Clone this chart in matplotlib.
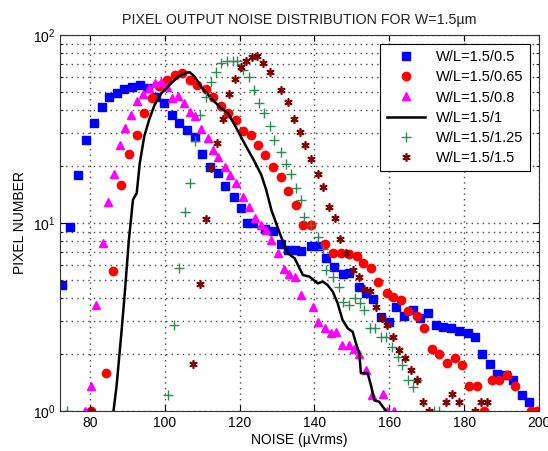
import matplotlib
matplotlib.use("Agg")
import matplotlib.pyplot as plt
import numpy as np

plt.rcParams['font.family'] = ['Liberation Sans', 'DejaVu Sans']

# W/L=1.5/0.5 (blue squares)
x_05 = [72.5, 74.7, 76.9, 78.9, 81.1, 83.1, 85.1, 87.1, 89.1, 91.3, 93.3, 95.4, 97.6, 99.7,
        101.8, 103.9, 105.9, 108.0, 110.0, 112.0, 114.2, 116.2, 118.4, 120.5, 122.0, 123.5,
        126.7, 128.9, 131.1, 132.9, 134.7, 136.5, 139.1, 140.9, 143.1, 145.3, 147.5, 149.3,
        151.8, 153.8, 155.7, 157.8, 159.8, 161.9, 164.0, 166.2, 168.2, 170.4, 172.5, 174.4,
        176.5, 178.7, 180.9, 182.9, 184.7, 186.9, 188.9, 191.1, 193.1, 195.5, 197.3]
y_05 = [4.7, 9.5, 18.0, 27.6, 34.2, 41.2, 47.0, 49.3, 51.8, 53.1, 54.0, 52.0, 47.0, 43.3,
        37.5, 33.9, 31.2, 28.8, 23.3, 19.9, 18.4, 15.7, 13.7, 12.0, 10.0, 10.0,
        9.3, 9.1, 7.7, 7.2, 7.2, 7.1, 7.5, 7.55, 6.5, 5.86, 5.35, 5.4,
        4.55, 4.23, 3.93, 3.17, 2.99, 3.59, 3.2, 3.44, 3.11, 3.33, 2.87, 2.81,
        2.77, 2.67, 2.59, 2.48, 2.01, 1.77, 1.57, 1.55, 1.46, 1.22, 1.11]

# W/L=1.5/0.65 (red circles)
x_065 = [80.3, 84.2, 86.2, 88.4, 90.4, 92.5, 94.5, 96.6, 98.5, 100.6, 102.7, 104.7, 106.7,
         108.7, 110.9, 112.9, 114.9, 116.9, 118.9, 120.9, 123.0, 124.9, 126.9, 128.9, 131.0,
         132.9, 135.0, 136.9, 139.1, 142.9, 144.9, 147.1, 149.1, 151.3, 153.1, 155.1, 157.1,
         159.3, 161.1, 163.1, 165.1, 167.3, 169.3, 171.4, 173.3, 175.4, 177.5, 179.5, 181.3,
         183.4, 185.3, 187.4, 189.3, 191.5, 193.6, 197.8, 199.5]
y_065 = [1.0, 1.6, 5.56, 16.0, 23.2, 29.4, 38.3, 46.5, 53.4, 57.8, 61.3, 62.6, 57.8,
         54.3, 51.4, 47.0, 41.9, 38.3, 35.3, 30.9, 29.4, 26.0, 23.0, 19.9, 17.6,
         14.8, 12.4, 9.7, 9.7, 7.7, 6.95, 6.9, 6.84, 6.7, 6.1, 5.74, 4.88,
         4.22, 4.03, 3.89, 3.42, 3.2, 2.77, 2.13, 2.01, 1.79, 1.91, 1.76, 1.35,
         1.35, 1.0, 1.46, 1.46, 1.55, 1.35, 1.0, 1.0]

# W/L=1.5/0.8 (magenta triangles)
x_08 = [78.7, 80.3, 81.6, 83.4, 84.8, 86.4, 88.0, 89.5, 91.1, 92.7, 94.2, 95.7, 97.3, 98.9,
        100.6, 102.0, 103.5, 105.1, 106.7, 108.2, 109.8, 111.6, 112.9, 114.2, 116.0, 117.5,
        119.1, 120.9, 122.4, 124.0, 125.8, 127.1, 128.5, 130.2, 131.8, 133.3, 134.9, 136.5,
        139.5, 140.9, 142.7, 144.5, 145.8, 147.4, 149.1, 150.5, 152.0, 153.8, 155.4, 158.4,
        159.3, 161.3]
y_08 = [1.0, 1.35, 3.66, 7.8, 13.0, 18.2, 26.0, 31.9, 37.5, 44.4, 48.5, 52.1, 55.3, 56.3,
        53.1, 46.5, 47.2, 43.6, 39.0, 36.9, 31.5, 28.2, 24.4, 22.5, 19.9, 18.0,
        16.3, 13.8, 12.1, 10.6, 9.75, 9.18, 8.1, 6.9, 5.66, 5.35, 5.18, 4.14,
        3.59, 2.99, 2.75, 2.59, 2.64, 2.24, 2.24, 2.13, 2.01, 1.65, 1.22, 1.23,
        1.0, 1.0]

# W/L=1.5/1 (black line)
x_1 = [85.9, 86.3, 87.1, 88.4, 89.3, 90.4, 91.5, 92.5, 93.3, 94.5, 95.8, 97.3, 99.1, 101.3,
       103.5, 105.8, 106.7, 108.0, 109.8, 112.5, 115.1, 116.9, 118.7, 121.3, 124.0, 125.8,
       127.1, 128.5, 131.1, 132.9, 134.7, 136.9, 138.7, 140.9, 142.2, 143.5, 144.9, 146.2,
       147.5, 148.9, 150.2, 151.1, 152.0, 152.4, 154.2, 155.1, 156.0, 157.3, 159.1, 159.6]
y_1 = [0.8, 1.0, 1.35, 2.59, 4.22, 8.1, 13.3, 14.4, 20.7, 28.8, 35.3, 42.6, 49.0, 54.3,
       60.0, 63.1, 63.3, 60.0, 52.7, 45.8, 40.7, 38.3, 33.2, 26.5, 21.2, 18.0,
       15.0, 11.7, 8.42, 6.9, 6.49, 5.29, 5.18, 4.77, 4.88, 4.68, 4.31, 3.74,
       3.05, 2.75, 2.64, 2.29, 2.03, 1.59, 1.59, 1.37, 1.14, 1.12, 1.0, 0.8]

# W/L=1.5/1.25 (green plus)
x_125 = [74.0, 100.9, 102.4, 103.8, 105.3, 106.7, 108.0, 109.5, 110.9, 112.3, 113.8, 115.1,
         116.6, 118.1, 119.4, 120.9, 122.4, 123.8, 125.1, 126.5, 128.0, 129.3, 131.0, 132.5,
         133.8, 135.1, 136.5, 137.3, 139.1, 140.9, 142.2, 143.1, 144.9, 146.5, 147.7, 149.3,
         150.7, 152.2, 153.3, 154.9, 156.3, 157.8, 159.1, 160.7, 162.2, 163.4, 164.9, 166.4,
         167.3, 172.0, 173.3]
y_125 = [1.0, 1.22, 2.87, 5.74, 11.5, 16.4, 27.4, 37.5, 47.0, 56.3, 63.7, 70.6,
         73.0, 73.0, 73.0, 65.0, 60.0, 50.9, 43.3, 38.3, 32.7, 27.5, 24.0, 20.5,
         18.2, 15.3, 13.2, 10.8, 9.75, 8.42, 7.3, 5.63, 5.18, 4.55, 3.81, 3.66,
         3.97, 3.76, 3.44, 2.77, 2.77, 2.47, 2.47, 2.2, 1.94, 1.76, 1.46, 1.34,
         1.46, 1.0, 1.0]

# W/L=1.5/1.5 (brown stars)
x_15 = [80.3, 107.6, 109.3, 110.9, 112.4, 114.0, 115.5, 117.1, 118.7, 120.3, 121.8, 123.3,
        124.7, 126.2, 128.0, 131.1, 132.9, 134.5, 136.0, 137.6, 139.1, 140.9, 142.2, 143.8,
        145.6, 146.9, 148.5, 150.2, 151.8, 153.3, 154.9, 156.5, 158.1, 159.5, 161.1, 162.5,
        164.3, 165.8, 167.3, 169.1, 170.5, 175.1, 176.7, 178.5, 182.9, 184.5, 186.2]
y_15 = [1.0, 1.77, 4.72, 10.5, 19.5, 26.7, 35.7, 48.5, 58.1, 67.7, 73.0, 76.7,
        77.4, 71.3, 63.7, 51.0, 44.2, 35.7, 30.3, 26.0, 21.8, 18.2, 15.6, 12.2,
        10.6, 8.27, 6.95, 5.63, 5.14, 4.43, 4.37, 3.56, 3.11, 2.86, 2.48, 2.11,
        1.91, 1.65, 1.46, 1.11, 1.0, 1.11, 1.23, 1.11, 1.0, 1.11, 1.11]

fig = plt.figure(figsize=(5.48, 4.51), dpi=100)
ax = fig.add_axes([60 / 548, 40 / 451, 479 / 548, 376 / 451])

ax.plot(x_05, y_05, 's', color='#0000FF', ms=5.5, label='W/L=1.5/0.5')
ax.plot(x_065, y_065, 'o', color='#FF0000', ms=6, label='W/L=1.5/0.65')
ax.plot(x_08, y_08, '^', color='#FF00FF', ms=6, label='W/L=1.5/0.8')
ax.plot(x_1, y_1, '-', color='black', lw=1.8, label='W/L=1.5/1')
ax.plot(x_125, y_125, '+', color='#2E8B57', ms=7, mew=1.0, label='W/L=1.5/1.25')
ax.plot(x_15, y_15, marker=(6, 2, 0), ls='none', color='#800000', ms=6, mew=1.2,
        label='W/L=1.5/1.5')

ax.set_yscale('log')
ax.set_xlim(72, 200)
ax.set_ylim(1, 100)
ax.set_xticks([80, 100, 120, 140, 160, 180, 200])
ax.tick_params(which='both', direction='in', top=True, right=True, labelsize=10)
ax.tick_params(which='major', length=4)
ax.tick_params(which='minor', length=2.5)
ax.grid(True, which='major', ls=(0, (1, 3)), color='#444444', lw=1.0)
ax.grid(True, which='minor', axis='y', ls=(0, (1, 3)), color='#444444', lw=1.0)
for s in ax.spines.values():
    s.set_color('#333333')

ax.set_title('PIXEL OUTPUT NOISE DISTRIBUTION FOR W=1.5\u00b5m', fontsize=10.3, pad=8,
             color='#222222')
ax.set_xlabel('NOISE (\u00b5Vrms)', fontsize=10, labelpad=2)
ax.set_ylabel('PIXEL NUMBER', fontsize=10)

leg = ax.legend(loc='upper right', fontsize=10.5, fancybox=False, edgecolor='black',
                framealpha=1, borderaxespad=0.6, handlelength=2.6, labelspacing=0.42,
                borderpad=0.45)
leg.get_frame().set_linewidth(0.8)

fig.savefig('out.png', dpi=100)
